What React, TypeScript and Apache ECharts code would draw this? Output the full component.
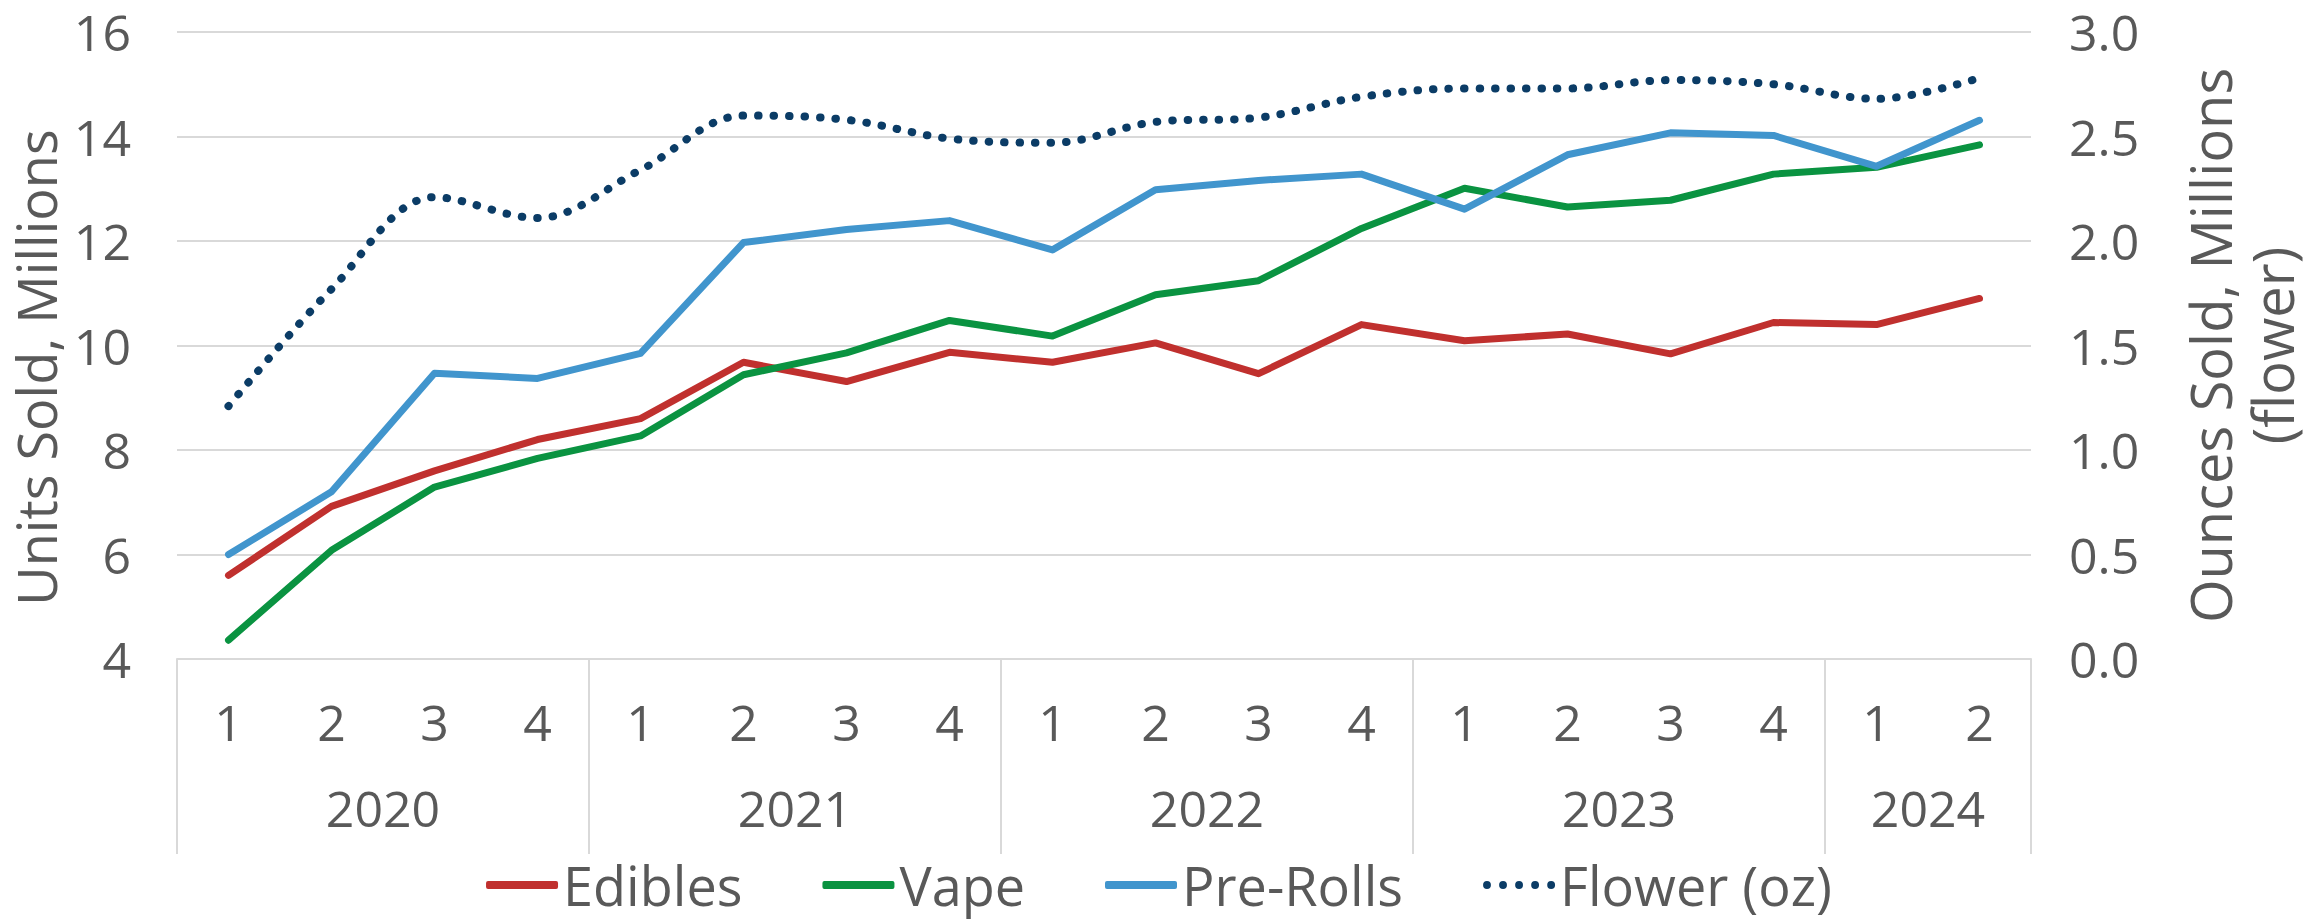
import React, { useEffect, useRef } from "react";
import * as echarts from "echarts";

const quarters = ["1", "2", "3", "4", "1", "2", "3", "4", "1", "2", "3", "4", "1", "2", "3", "4", "1", "2"];
const years = ["2020", "2021", "2022", "2023", "2024"];
const quartersPerYear = [4, 4, 4, 4, 2];

const edibles = [5.6, 6.92, 7.6, 8.2, 8.6, 9.68, 9.31, 9.87, 9.68, 10.05, 9.46, 10.4, 10.09, 10.22, 9.84, 10.44, 10.4, 10.9];
const vape = [4.36, 6.08, 7.29, 7.84, 8.27, 9.44, 9.86, 10.48, 10.18, 10.97, 11.24, 12.24, 13.01, 12.65, 12.78, 13.28, 13.41, 13.84];
const preRolls = [6.0, 7.2, 9.47, 9.37, 9.85, 11.97, 12.22, 12.39, 11.83, 12.98, 13.16, 13.28, 12.61, 13.65, 14.07, 14.02, 13.43, 14.31];
const flower = [1.21, 1.77, 2.21, 2.11, 2.34, 2.6, 2.58, 2.49, 2.47, 2.57, 2.59, 2.69, 2.73, 2.73, 2.77, 2.75, 2.68, 2.78];

const FONT = "'Open Sans', 'DejaVu Sans', sans-serif";
const TEXT = "#595959";
const GRID = "#D9D9D9";
const RED = "#C0302E";
const GREEN = "#0A9341";
const BLUE = "#4195CD";
const NAVY = "#0B3C66";

const dot = (cx: number) => `M${cx - 3.8},4a3.8,3.8 0 1,0 7.6,0a3.8,3.8 0 1,0 -7.6,0`;
const DOTS_ICON = "path://" + [3.8, 19.3, 34.8, 50.3, 65.8].map(dot).join("");

export default function App() {
  const ref = useRef<HTMLDivElement>(null);
  useEffect(() => {
    if (!ref.current) return;
    const chart = echarts.init(ref.current, null, { renderer: "svg" });

    const boundaries: number[] = [0];
    const centers: number[] = [];
    let acc = 0;
    quartersPerYear.forEach((n) => {
      centers.push(acc + n / 2);
      acc += n;
      boundaries.push(acc);
    });

    chart.setOption({
      animation: false,
      backgroundColor: "#ffffff",
      textStyle: { fontFamily: FONT, color: TEXT },
      grid: { left: 177, right: 287, top: 32, bottom: 262, containLabel: false },
      legend: {
        bottom: 4,
        left: "center",
        itemWidth: 72,
        itemHeight: 8,
        itemGap: 80,
        textStyle: { fontFamily: FONT, fontSize: 54, color: TEXT },
        data: [
          { name: "Edibles", icon: "roundRect" },
          { name: "Vape", icon: "roundRect" },
          { name: "Pre-Rolls", icon: "roundRect" },
          { name: "Flower (oz)", icon: DOTS_ICON },
        ],
      },
      xAxis: [
        {
          type: "category",
          data: quarters,
          boundaryGap: true,
          position: "bottom",
          axisLine: { show: true, lineStyle: { color: GRID, width: 2 } },
          axisTick: { show: false },
          axisLabel: { interval: 0, fontSize: 50, color: TEXT, fontFamily: FONT, margin: 38 },
          splitLine: { show: false },
        },
        {
          type: "value",
          min: 0,
          max: quarters.length,
          position: "bottom",
          axisLine: { show: false },
          splitLine: { show: false },
          axisTick: {
            show: true,
            customValues: boundaries,
            length: 195,
            lineStyle: { color: GRID, width: 2 },
          },
          axisLabel: {
            show: true,
            customValues: centers,
            fontSize: 50,
            color: TEXT,
            fontFamily: FONT,
            margin: 124,
            formatter: (v: number) => {
              const i = centers.findIndex((c) => Math.abs(c - v) < 1e-6);
              return i >= 0 ? years[i] : "";
            },
          },
        },
      ],
      yAxis: [
        {
          type: "value",
          min: 4,
          max: 16,
          interval: 2,
          position: "left",
          name: "Units Sold, Millions",
          nameLocation: "middle",
          nameRotate: 90,
          nameGap: 86,
          nameTextStyle: { fontSize: 54, color: TEXT, fontFamily: FONT, padding: [0, 44, 0, 0] },
          axisLine: { show: false },
          axisTick: { show: false },
          axisLabel: { fontSize: 50, color: TEXT, fontFamily: FONT, margin: 46 },
          splitLine: { show: true, lineStyle: { color: GRID, width: 2 } },
        },
        {
          type: "value",
          min: 0,
          max: 3,
          interval: 0.5,
          position: "right",
          name: "Ounces Sold, Millions\n(flower)",
          nameLocation: "middle",
          nameRotate: 90,
          nameGap: 148,
          nameTextStyle: { fontSize: 56, color: TEXT, fontFamily: FONT, lineHeight: 62, align: "center" },
          axisLine: { show: false },
          axisTick: { show: false },
          axisLabel: {
            fontSize: 50,
            color: TEXT,
            fontFamily: FONT,
            margin: 38,
            formatter: (v: number) => v.toFixed(1),
          },
          splitLine: { show: false },
        },
      ],
      series: [
        {
          name: "Edibles",
          type: "line",
          data: edibles,
          xAxisIndex: 0,
          yAxisIndex: 0,
          symbol: "none",
          color: RED,
          itemStyle: { color: RED },
          lineStyle: { color: RED, width: 7, cap: "round", join: "round" },
        },
        {
          name: "Vape",
          type: "line",
          data: vape,
          xAxisIndex: 0,
          yAxisIndex: 0,
          symbol: "none",
          color: GREEN,
          itemStyle: { color: GREEN },
          lineStyle: { color: GREEN, width: 7, cap: "round", join: "round" },
        },
        {
          name: "Pre-Rolls",
          type: "line",
          data: preRolls,
          xAxisIndex: 0,
          yAxisIndex: 0,
          symbol: "none",
          color: BLUE,
          itemStyle: { color: BLUE },
          lineStyle: { color: BLUE, width: 7, cap: "round", join: "round" },
        },
        {
          name: "Flower (oz)",
          type: "line",
          data: flower,
          xAxisIndex: 0,
          yAxisIndex: 1,
          symbol: "none",
          smooth: 0.35,
          color: NAVY,
          itemStyle: { color: NAVY },
          lineStyle: { color: NAVY, width: 8, cap: "round", type: [0.5, 15] },
        },
      ],
    });
    return () => chart.dispose();
  }, []);
  return (
    <div
      ref={ref}
      style={{ position: "fixed", left: 0, top: 0, width: 2318, height: 921, background: "#fff" }}
    />
  );
}
